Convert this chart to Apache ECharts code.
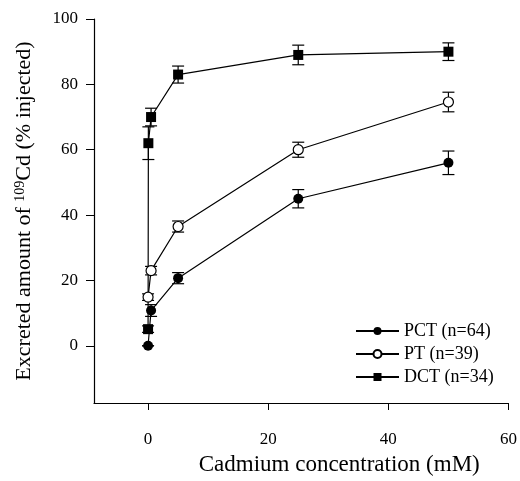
<!DOCTYPE html>
<html>
<head>
<meta charset="utf-8">
<script src="https://cdn.jsdelivr.net/npm/echarts@6/dist/echarts.min.js"></script>
<style>
  html, body { margin: 0; padding: 0; background: #fff; }
  #chart { width: 520px; height: 481px; }
</style>
</head>
<body>
<div id="chart"></div>
<script>
// 数据
var pctX = [0, 0.5, 5, 25, 50];
var pctY = [0, 10.8, 20.7, 45, 56];
var pctErr = [0, 1.8, 1.7, 2.8, 3.6];
var ptX = [0, 0.5, 5, 25, 50];
var ptY = [14.9, 23, 36.5, 60, 74.6];
var ptErr = [1, 1.3, 1.7, 2.3, 3];
var dctX = [0, 0.05, 0.5, 5, 25, 50];
var dctY = [5.1, 62, 70, 83, 89, 90];
var dctErr = [1, 5, 2.7, 2.6, 3, 2.7];
var xTicks = [0, 20, 40, 60];
var yTicks = [0, 20, 40, 60, 80, 100];

var font = 'Liberation Serif';
var myChart = echarts.init(document.getElementById('chart'));

function pts(xs, ys) {
    return xs.map(function(x, i) { return [x, ys[i]]; });
}
function errData(xs, ys, es) {
    return xs.map(function(x, i) { return [x, ys[i] - es[i], ys[i] + es[i]]; });
}
// 误差棒
function errSeries(data) {
    return {
        type: 'custom',
        silent: true,
        z: 1,
        data: data,
        renderItem: function(params, api) {
            var lo = api.coord([api.value(0), api.value(1)]);
            var hi = api.coord([api.value(0), api.value(2)]);
            var w = 6;
            var st = { stroke: '#000', lineWidth: 1.2 };
            return {
                type: 'group',
                children: [
                    { type: 'line', shape: { x1: lo[0], y1: lo[1], x2: hi[0], y2: hi[1] }, style: st },
                    { type: 'line', shape: { x1: lo[0] - w, y1: lo[1], x2: lo[0] + w, y2: lo[1] }, style: st },
                    { type: 'line', shape: { x1: hi[0] - w, y1: hi[1], x2: hi[0] + w, y2: hi[1] }, style: st }
                ]
            };
        }
    };
}

var option = {
    animation: false,
    grid: { left: 94, right: 8, top: 19, bottom: 70 },
    legend: {
        orient: 'vertical',
        left: 350,
        top: 317,
        itemWidth: 43,
        itemHeight: 10,
        itemGap: 5,
        textStyle: { fontFamily: font, fontSize: 18, color: '#000' },
        data: ['PCT (n=64)', 'PT (n=39)', 'DCT (n=34)']
    },
    xAxis: {
        type: 'value',
        min: -9,
        max: 60,
        name: 'Cadmium concentration (mM)',
        nameLocation: 'middle',
        nameGap: 50,
        nameTextStyle: { fontFamily: font, fontSize: 23, color: '#000', padding: [0, 0, 0, 76] },
        splitLine: { show: false },
        axisLine: { onZero: false, lineStyle: { color: '#000', width: 1.2 } },
        axisTick: { customValues: xTicks, length: 7, lineStyle: { color: '#000' } },
        axisLabel: { customValues: xTicks, margin: 28, fontFamily: font, fontSize: 17, color: '#000' }
    },
    yAxis: {
        type: 'value',
        min: -17.5,
        max: 100,
        name: 'Excreted amount of {sup|109}Cd (% injected)',
        nameLocation: 'middle',
        nameGap: 58,
        nameTextStyle: {
            fontFamily: font, fontSize: 22, color: '#000',
            rich: {
                sup: { fontFamily: font, fontSize: 14, color: '#000', padding: [0, 0, 9, 0] }
            }
        },
        splitLine: { show: false },
        axisLine: { show: true, onZero: false, lineStyle: { color: '#000', width: 1.2 } },
        axisTick: { show: true, customValues: yTicks, length: 8, lineStyle: { color: '#000' } },
        axisLabel: { customValues: yTicks, margin: 16, fontFamily: font, fontSize: 17, color: '#000' }
    },
    series: [
        errSeries(errData(pctX, pctY, pctErr)),
        errSeries(errData(ptX, ptY, ptErr)),
        errSeries(errData(dctX, dctY, dctErr)),
        {
            name: 'PCT (n=64)',
            type: 'line',
            z: 3,
            data: pts(pctX, pctY),
            symbol: 'circle',
            symbolSize: 10,
            itemStyle: { color: '#000' },
            lineStyle: { color: '#000', width: 1.2 }
        },
        {
            name: 'PT (n=39)',
            type: 'line',
            z: 3,
            data: pts(ptX, ptY),
            symbol: 'circle',
            symbolSize: 10,
            itemStyle: { color: '#fff', borderColor: '#000', borderWidth: 1.2 },
            lineStyle: { color: '#000', width: 1.2 }
        },
        {
            name: 'DCT (n=34)',
            type: 'line',
            z: 3,
            data: pts(dctX, dctY),
            symbol: 'rect',
            symbolSize: 10,
            itemStyle: { color: '#000' },
            lineStyle: { color: '#000', width: 1.2 }
        }
    ]
};
myChart.setOption(option);
</script>
</body>
</html>
